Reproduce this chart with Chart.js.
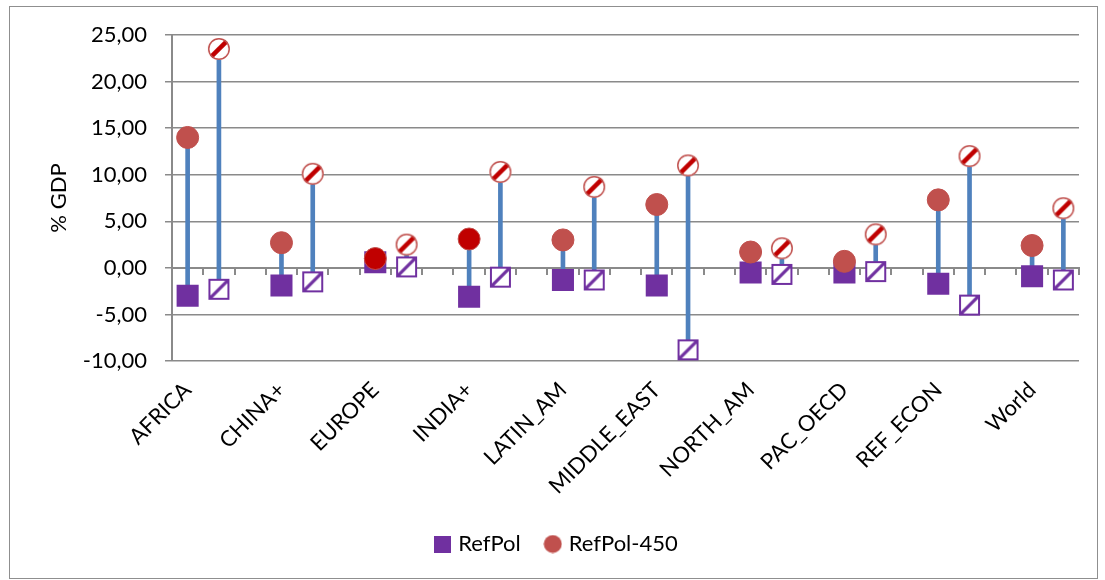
<!DOCTYPE html>
<html>
<head>
<meta charset="utf-8">
<title>% GDP by region</title>
<script src="https://cdn.jsdelivr.net/npm/chart.js@4.4.1/dist/chart.umd.min.js"></script>
<style>
  html, body { margin: 0; padding: 0; background: #ffffff; }
  #wrap { position: relative; width: 1105px; height: 580px; overflow: hidden; }
  #frame { position: absolute; left: 9px; top: 6px; width: 1089px; height: 573px;
           border: 1px solid #8f8f8f; box-sizing: border-box; }
  #chart { position: absolute; left: 0; top: 0; }
</style>
</head>
<body>
<div id="wrap">
  <div id="frame"></div>
  <canvas id="chart" width="1105" height="580"></canvas>
</div>
<script>
// Regions on the category axis
const regions = ['AFRICA', 'CHINA+', 'EUROPE', 'INDIA+', 'LATIN_AM', 'MIDDLE_EAST',
                 'NORTH_AM', 'PAC_OECD', 'REF_ECON', 'World'];

// First variant (solid markers), % GDP
const refPol    = [-3.0, -1.9, 0.6, -3.1, -1.3, -1.9, -0.5, -0.5, -1.7, -0.9];
const refPol450 = [14.0, 2.7, 1.0, 3.1, 3.0, 6.8, 1.7, 0.7, 7.3, 2.4];

// Second variant (hatched markers), % GDP
const refPolAlt    = [-2.3, -1.5, 0.1, -1.0, -1.3, -8.8, -0.7, -0.4, -4.0, -1.3];
const refPol450Alt = [23.5, 10.1, 2.5, 10.3, 8.7, 11.0, 2.1, 3.6, 12.0, 6.4];

// Value axis ticks
const yTicks = [-10, -5, 0, 5, 10, 15, 20, 25];

// Fill colour of the solid RefPol-450 circles, per region
const circleFill = ['#C0504D', '#C0504D', '#C00000', '#C00000', '#C0504D',
                    '#C0504D', '#C0504D', '#C0504D', '#C0504D', '#C0504D'];

const PURPLE = '#7030A0';
const RED = '#C0504D';
const DEEP_RED = '#C00000';
const BLUE = '#4F81BD';
const GRID = '#8a8a8a';

// Each region takes two slots (solid, hatched) and one spacer slot
const SLOTS = regions.length * 3 - 1;
const slotLabels = [];
for (let k = 0; k < SLOTS; k++) slotLabels.push(k % 3 === 0 ? regions[k / 3] : '');

function spread(values, offset) {
  const out = new Array(SLOTS).fill(null);
  values.forEach((v, i) => { out[i * 3 + offset] = v; });
  return out;
}
function spreadStyle(values, offset, fallback) {
  const out = new Array(SLOTS).fill(fallback);
  values.forEach((v, i) => { out[i * 3 + offset] = v; });
  return out;
}

const squaresA = spread(refPol, 0);
const squaresB = spread(refPolAlt, 1);
const circlesA = spread(refPol450, 0);
const circlesB = spread(refPol450Alt, 1);

// High-low connectors between the square and the circle of each slot
const connectors = slotLabels.map((_, k) => {
  const a = squaresA[k] ?? squaresB[k];
  const b = circlesA[k] ?? circlesB[k];
  if (a === null || a === undefined || b === null || b === undefined) return null;
  return [Math.min(a, b), Math.max(a, b)];
});

// Marker images
function makeCanvas(size, draw) {
  const c = document.createElement('canvas');
  c.width = size; c.height = size;
  draw(c.getContext('2d'), size);
  return c;
}

const hatchedSquare = makeCanvas(23, (ctx, s) => {
  const m = 1, w = s - 2 * m;
  ctx.fillStyle = '#ffffff';
  ctx.fillRect(m, m, w, w);
  ctx.save();
  ctx.beginPath(); ctx.rect(m, m, w, w); ctx.clip();
  ctx.strokeStyle = PURPLE;
  ctx.lineWidth = 3.2;
  for (const c of [-s, 0, s]) {
    ctx.beginPath();
    ctx.moveTo(c - 4, s + 4);
    ctx.lineTo(s + 4 + c, -4);
    ctx.stroke();
  }
  ctx.restore();
  ctx.strokeStyle = PURPLE;
  ctx.lineWidth = 2;
  ctx.strokeRect(m + 1, m + 1, w - 2, w - 2);
});

const hatchedCircle = makeCanvas(24, (ctx, s) => {
  const r = 11, cx = s / 2, cy = s / 2;
  ctx.beginPath(); ctx.arc(cx, cy, r, 0, Math.PI * 2);
  ctx.fillStyle = '#ffffff'; ctx.fill();
  ctx.save();
  ctx.beginPath(); ctx.arc(cx, cy, r, 0, Math.PI * 2); ctx.clip();
  ctx.strokeStyle = DEEP_RED;
  ctx.lineWidth = 4.5;
  ctx.beginPath();
  ctx.moveTo(cx - r - 2, cy + r + 2);
  ctx.lineTo(cx + r + 2, cy - r - 2);
  ctx.stroke();
  ctx.restore();
  ctx.beginPath(); ctx.arc(cx, cy, r - 0.75, 0, Math.PI * 2);
  ctx.strokeStyle = RED; ctx.lineWidth = 1.5; ctx.stroke();
});

const legendSquare = makeCanvas(17, (ctx, s) => {
  ctx.fillStyle = PURPLE; ctx.fillRect(0, 0, s, s);
});
const legendCircle = makeCanvas(19, (ctx, s) => {
  ctx.beginPath(); ctx.arc(s / 2, s / 2, 9, 0, Math.PI * 2);
  ctx.fillStyle = RED; ctx.fill();
});

const FONT = 'Lato';
Chart.defaults.font.family = FONT;
Chart.defaults.color = '#000000';

function fmt(v) { return v.toFixed(2).replace('.', ','); }

function draw() {
  new Chart(document.getElementById('chart'), {
    type: 'bar',
    data: {
      labels: slotLabels,
      datasets: [
        {
          type: 'line', label: 'RefPol-450', data: circlesA, showLine: false,
          pointStyle: 'circle', pointRadius: 11, pointHoverRadius: 11,
          pointBackgroundColor: spreadStyle(circleFill, 0, RED),
          pointBorderColor: RED, pointBorderWidth: 1, order: 0
        },
        {
          type: 'line', label: 'RefPol-450 (hatched)', data: circlesB, showLine: false,
          pointStyle: hatchedCircle, pointRadius: 11, order: 1
        },
        {
          type: 'line', label: 'RefPol', data: squaresA, showLine: false,
          pointStyle: 'rect', pointRadius: 15.6, pointHoverRadius: 15.6,
          pointBackgroundColor: PURPLE, pointBorderColor: PURPLE, pointBorderWidth: 0, order: 2
        },
        {
          type: 'line', label: 'RefPol (hatched)', data: squaresB, showLine: false,
          pointStyle: hatchedSquare, pointRadius: 11, order: 3
        },
        {
          type: 'bar', label: 'range', data: connectors,
          backgroundColor: BLUE, borderWidth: 0, barThickness: 4, order: 10
        }
      ]
    },
    options: {
      responsive: false,
      animation: false,
      devicePixelRatio: 1,
      events: [],
      layout: { padding: { left: 36, top: 35, right: 26, bottom: 15 } },
      plugins: {
        tooltip: { enabled: false },
        legend: {
          display: true,
          position: 'bottom',
          onClick: null,
          labels: {
            usePointStyle: true,
            pointStyleWidth: 10,
            boxHeight: 22,
            padding: 27,
            font: { family: FONT, size: 22 },
            color: '#000000',
            generateLabels: () => [
              { text: 'RefPol', pointStyle: legendSquare, fillStyle: PURPLE,
                strokeStyle: PURPLE, lineWidth: 0, hidden: false, fontColor: '#000000' },
              { text: 'RefPol-450', pointStyle: legendCircle, fillStyle: RED,
                strokeStyle: RED, lineWidth: 0, hidden: false, fontColor: '#000000' }
            ]
          }
        }
      },
      scales: {
        x: {
          type: 'category',
          offset: true,
          grid: { display: false, drawTicks: false },
          border: { display: false },
          ticks: {
            autoSkip: false,
            minRotation: 45, maxRotation: 45,
            padding: 16,
            font: { family: FONT, size: 22 },
            color: '#000000'
          },
          afterFit: (scale) => { scale.height = 145; }
        },
        x2: {
          type: 'category',
          axis: 'x',
          position: { y: 0 },
          offset: true,
          grid: { offset: true, drawOnChartArea: false, drawTicks: true, tickLength: 6,
                  color: GRID, lineWidth: 2 },
          border: { display: true, color: GRID, width: 2 },
          ticks: { display: false }
        },
        y: {
          min: -10, max: 25,
          afterBuildTicks: (scale) => { scale.ticks = yTicks.map(v => ({ value: v })); },
          grid: { color: GRID, lineWidth: 1.5, tickLength: 7, tickColor: GRID },
          border: { display: true, color: GRID, width: 2 },
          ticks: {
            padding: 18,
            font: { family: FONT, size: 22 },
            color: '#000000',
            callback: (v) => fmt(v)
          },
          title: {
            display: true, text: '% GDP',
            font: { family: FONT, size: 22 }, color: '#000000',
            padding: { top: 10, bottom: 0 }
          },
          afterFit: (scale) => { scale.width = 136; }
        }
      }
    }
  });
}

if (document.fonts && document.fonts.load) {
  document.fonts.load('22px ' + FONT).then(draw, draw);
} else {
  draw();
}
</script>
</body>
</html>
